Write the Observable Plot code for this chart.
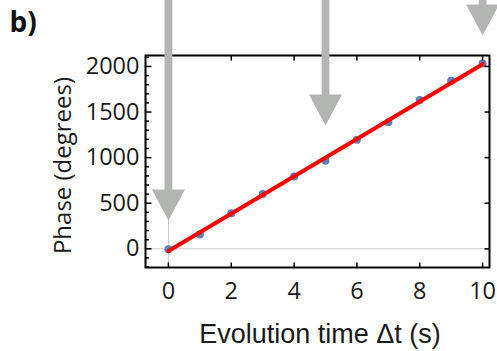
<!DOCTYPE html>
<html>
<head>
<meta charset="utf-8">
<script src="https://cdn.jsdelivr.net/npm/d3@7"></script>
<script src="https://cdn.jsdelivr.net/npm/@observablehq/plot@0.6"></script>
<style>
  html, body { margin: 0; padding: 0; background: white; }
</style>
</head>
<body>
<div id="chart"></div>
<script>
// ---- data ----
const times = [0, 1, 2, 3, 4, 5, 6, 7, 8, 9, 10];
const phases = [-5, 157, 390, 602, 792, 967, 1197, 1387, 1631, 1843, 2033];
const fitX = [0, 10];
const fitY = [-25, 2025];
const arrowX = [0, 5, 10];
const arrowTipY = [310, 1352, 2339];
const xTicks = [0, 2, 4, 6, 8, 10];
const yTicks = [0, 500, 1000, 1500, 2000];
const yMinorTicks = d3.range(-200, 2101, 100).filter(v => v % 500 !== 0);
const xLabel = "Evolution time Δt (s)";
const yLabel = "Phase (degrees)";
const panelLabel = "b)";

// ---- symbols ----
const tickSym = (dx, dy) => ({draw(ctx) { ctx.moveTo(0, 0); ctx.lineTo(dx, dy); }});
const arrowSym = {
  draw(ctx) {
    ctx.moveTo(0, 0);
    ctx.lineTo(16.5, -31);
    ctx.lineTo(3.9, -31);
    ctx.lineTo(3.9, -600);
    ctx.lineTo(-3.9, -600);
    ctx.lineTo(-3.9, -31);
    ctx.lineTo(-16.5, -31);
    ctx.closePath();
  }
};
const gray = "#b3b5b3";

const fit = fitX.map((x, i) => ({x, y: fitY[i]}));
const pts = times.map((t, i) => ({t, p: phases[i]}));
const arrows = arrowX.map((x, i) => ({x, y: arrowTipY[i]}));

const plot = Plot.plot({
  width: 497,
  height: 351,
  marginLeft: 145,
  marginRight: 8,
  marginTop: 55,
  marginBottom: 84,
  style: {fontFamily: "'Open Sans'", fontSize: "23.5px", color: "#1a1a1a", background: "white"},
  x: {domain: [-0.73, 10.22], axis: null},
  y: {domain: [-205, 2120], axis: null},
  marks: [
    Plot.ruleX([0], {stroke: "#c8c8c8", strokeWidth: 1}),
    Plot.ruleY([0], {stroke: "#c8c8c8", strokeWidth: 1}),
    Plot.dot(pts, {x: "t", y: "p", r: 4, fill: "#5e81b5", stroke: "none"}),
    Plot.line(fit, {x: "x", y: "y", stroke: "#ff0000", strokeWidth: 4}),
    Plot.frame({stroke: "black", strokeWidth: 2}),
    // inward ticks
    Plot.dot(xTicks, {x: d => d, frameAnchor: "bottom", symbol: tickSym(0, -5), stroke: "black", strokeWidth: 1.5, fill: "none"}),
    Plot.dot(xTicks, {x: d => d, frameAnchor: "top", symbol: tickSym(0, 5), stroke: "black", strokeWidth: 1.5, fill: "none"}),
    Plot.dot(yTicks, {y: d => d, frameAnchor: "left", symbol: tickSym(6, 0), stroke: "black", strokeWidth: 1.5, fill: "none"}),
    Plot.dot(yMinorTicks, {y: d => d, frameAnchor: "left", symbol: tickSym(3.5, 0), stroke: "black", strokeWidth: 1.5, fill: "none"}),
    Plot.dot(yTicks, {y: d => d, frameAnchor: "right", symbol: tickSym(-5, 0), stroke: "black", strokeWidth: 1.5, fill: "none"}),
    // tick labels
    Plot.axisX(xTicks, {anchor: "bottom", tickSize: 0, tickPadding: 15, label: null, fontSize: 23.5, tickFormat: d => String(d)}),
    Plot.axisY(yTicks, {anchor: "left", tickSize: 0, tickPadding: 6, label: null, fontSize: 23.5, tickFormat: d => String(d)}),
    // titles
    Plot.text([xLabel], {frameAnchor: "bottom", textAnchor: "middle", lineAnchor: "middle", dx: 2.5, dy: 66.4, fontFamily: "'Liberation Sans', Arial, sans-serif", fontSize: 27, fill: "#1a1a1a"}),
    Plot.text([yLabel], {frameAnchor: "left", textAnchor: "middle", lineAnchor: "middle", rotate: -90, dx: -81.7, dy: 4, fontSize: 24, fill: "#1a1a1a"}),
    Plot.text([panelLabel], {frameAnchor: "top-left", textAnchor: "start", lineAnchor: "middle", dx: -136, dy: -32, fontSize: 28, fontWeight: "bold", fill: "#111"}),
    // arrows
    Plot.dot(arrows, {x: "x", y: "y", symbol: arrowSym, fill: gray, stroke: "none"})
  ]
});
document.getElementById("chart").appendChild(plot);
</script>
</body>
</html>
